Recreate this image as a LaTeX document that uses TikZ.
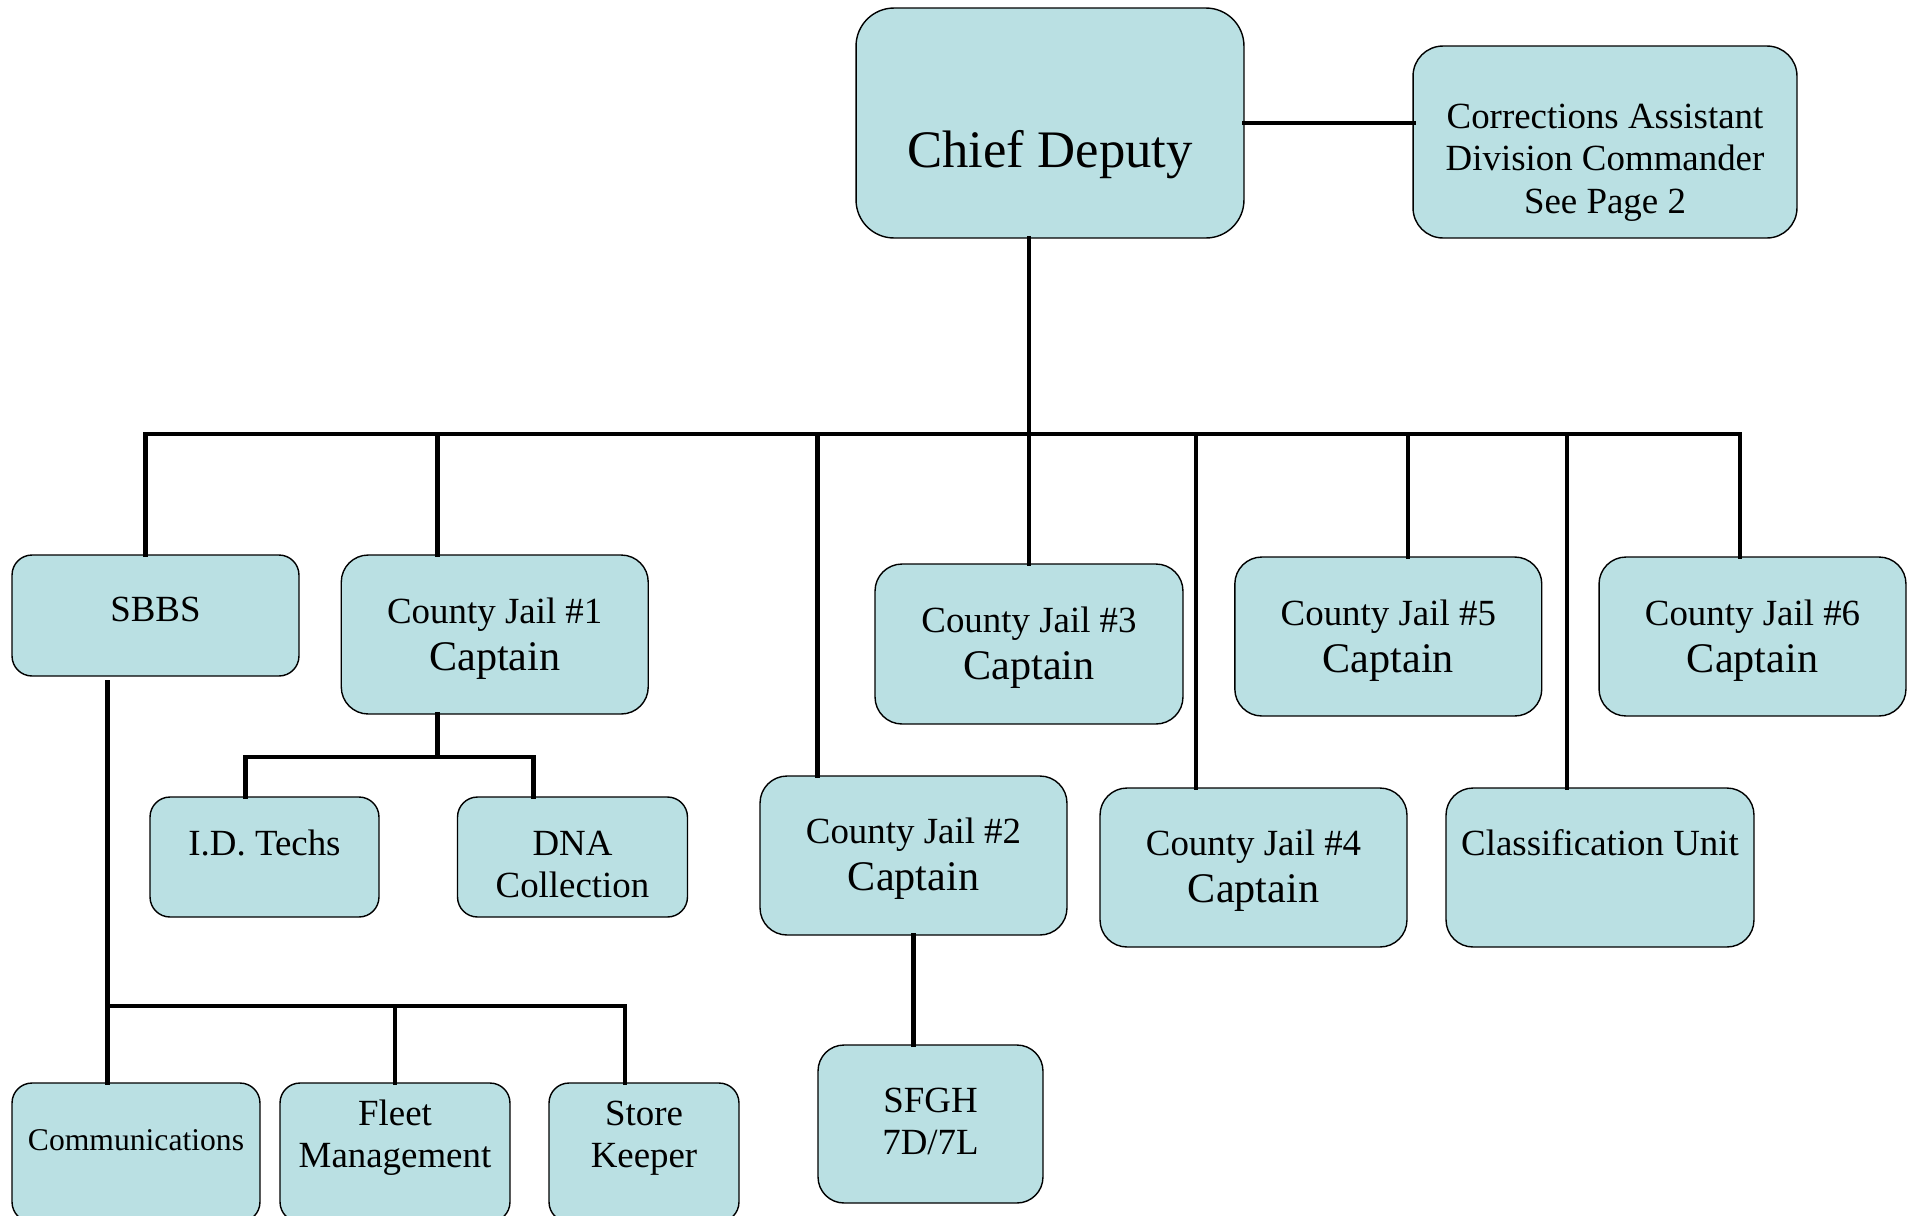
\documentclass[tikz,border=0pt]{standalone}
\usepackage{fontspec}
\setmainfont{Liberation Serif}
\usepackage{tikz}
\usetikzlibrary{calc}
\definecolor{unitblue}{RGB}{186,224,227}
\newcommand\unitlines[1]{\begin{tabular}[t]{@{}c@{}}#1\end{tabular}}
\newcommand\capt{\\[3pt]{\fontsize{24}{27}\selectfont Captain}}
\tikzset{
    unit/.style={draw, fill=unitblue, line width=0.8pt, rounded corners=0.4cm,
        inner sep=0pt, outer sep=0pt, font=\fontsize{21}{24.2}\selectfont},
    dims/.style 2 args={minimum width=#1cm, minimum height=#2cm},
    jail/.style={unit, dims={6.14}{3.18}, rounded corners=0.54cm},
    lift/.style={text height=#1, text depth=0pt},
    drop/.style={text height=0pt, text depth=#1},
    link/.style={line width=2.8pt, line cap=rect},
}

\begin{document}
\begin{tikzpicture}[x=0.02cm, y=-0.02cm]
      \useasboundingbox (0,0) rectangle (1907,1215);
      \clip (0,0) rectangle (1907,1215);
      % top row
      \node[unit, dims={7.76}{4.6}, rounded corners=0.76cm, lift=1.8cm,
        font=\fontsize{30}{34}\selectfont] (chief) at (1050,123) {Chief Deputy};
      \node[unit, dims={7.68}{3.84}, rounded corners=0.6cm, drop=0.56cm] (cad) at (1605,142)
        {\unitlines{Corrections Assistant\\Division Commander\\See Page 2}};
      % units under the chief
      \node[unit, dims={5.74}{2.42}, lift=0.22cm] (sbbs) at (155.5,615.5) {SBBS};
      \node[jail, drop=0.46cm] (cj1) at (494.75,634.5) {\unitlines{County Jail \#1\capt}};
      \node[jail, drop=0.5cm] (cj2) at (913.5,855.5) {\unitlines{County Jail \#2\capt}};
      \node[jail, dims={6.16}{3.2}, drop=0.48cm] (cj3) at (1029,644) {\unitlines{County Jail \#3\capt}};
      \node[jail, drop=0.5cm] (cj4) at (1253.5,867.5) {\unitlines{County Jail \#4\capt}};
      \node[jail, drop=0.46cm] (cj5) at (1388.3,636.5) {\unitlines{County Jail \#5\capt}};
      \node[jail, dims={6.16}{3.18}, drop=0.5cm] (cls) at (1600,867.5) {Classification Unit};
      \node[jail, drop=0.46cm] (cj6) at (1752.5,636.5) {\unitlines{County Jail \#6\capt}};
      % third level
      \node[unit, dims={4.58}{2.4}, drop=0.08cm] (idt) at (264.5,857) {I.D. Techs};
      \node[unit, dims={4.6}{2.4}, drop=0.08cm] (dna) at (572.5,857) {\unitlines{DNA\\Collection}};
      \node[unit, dims={4.5}{3.16}, rounded corners=0.52cm, drop=0.48cm] (sfgh) at (930.5,1124)
        {\unitlines{SFGH\\7D/7L}};
      \node[unit, dims={4.96}{2.78}, drop=0.1cm, font=\fontsize{18}{21}\selectfont] (comm) at (136,1152.5)
        {Communications};
      \node[unit, dims={4.6}{2.78}, drop=1.1cm] (fleet) at (395,1152.5) {\unitlines{Fleet\\Management}};
      \node[unit, dims={3.8}{2.78}, drop=1.1cm] (store) at (644,1152.5) {\unitlines{Store\\Keeper}};
      % connectors
      \draw[link] (chief.east) -- (chief.east -| cad.west);
      \draw[link] (chief.south -| cj3.north) -- (cj3.north);
      \foreach \x/\n in {145.7/sbbs, 437.7/cj1, 817.7/cj2, 1196/cj4, 1408/cj5, 1567/cls, 1740/cj6}{
        \coordinate (top-\n) at (\x,434);
        \draw[link] (top-\n) -- (top-\n |- \n.north);
      }
      \draw[link] (top-sbbs) -- (top-cj6);
      \coordinate (idt-up) at (245.5,757);
      \coordinate (dna-up) at (533.5,757);
      \draw[link] (top-cj1 |- cj1.south) -- (top-cj1 |- idt-up);
      \draw[link] (idt-up |- idt.north) -- (idt-up) -- (dna-up) -- (dna-up |- dna.north);
      \draw[link] (cj2.south) -- (cj2.south |- sfgh.north);
      \coordinate (sbbs-bus) at (107.6,1006);
      \coordinate (store-up) at (625,1006);
      \draw[link, shorten <=0.12cm] (sbbs.south -| sbbs-bus) -- (sbbs-bus |- comm.north);
      \draw[link] (sbbs-bus) -- (store-up) -- (store-up |- store.north);
      \draw[link] (fleet.north |- sbbs-bus) -- (fleet.north);
\end{tikzpicture}
\end{document}
